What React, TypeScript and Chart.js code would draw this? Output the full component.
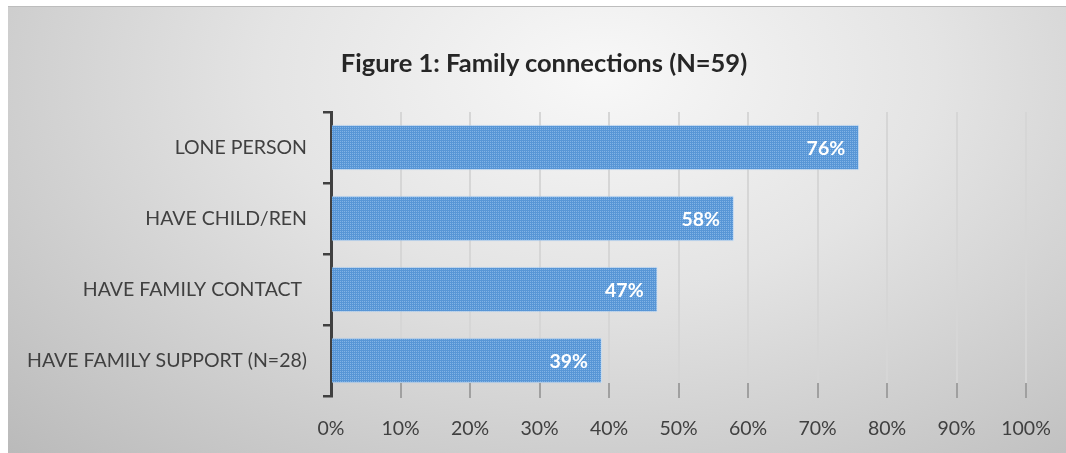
import React, { useEffect, useRef } from "react";
import { Chart, registerables } from "chart.js";

Chart.register(...registerables);

const categories = ["LONE PERSON", "HAVE CHILD/REN", "HAVE FAMILY CONTACT ", "HAVE FAMILY SUPPORT (N=28)"];
const values = [76, 58, 47, 39];
const xTicks = [0, 10, 20, 30, 40, 50, 60, 70, 80, 90, 100];
const titleText = "Figure 1: Family connections (N=59)";

const FONT = "Lato, 'Open Sans', sans-serif";

function makePattern(): CanvasPattern | string {
  const c = document.createElement("canvas");
  c.width = 2;
  c.height = 2;
  const g = c.getContext("2d");
  if (!g) return "#5B9BD5";
  g.fillStyle = "#5896d6";
  g.fillRect(0, 0, 2, 2);
  g.fillStyle = "#82b3e5";
  g.fillRect(0, 0, 1, 1);
  const p = g.createPattern(c, "repeat");
  return p || "#5B9BD5";
}

const dataLabelPlugin = {
  id: "dataLabels",
  afterDatasetsDraw(chart: any) {
    const ctx = chart.ctx;
    const meta = chart.getDatasetMeta(0);
    ctx.save();
    ctx.fillStyle = "#ffffff";
    ctx.font = `bold 19.5px ${FONT}`;
    ctx.textAlign = "right";
    ctx.textBaseline = "middle";
    meta.data.forEach((bar: any, i: number) => {
      ctx.fillText(values[i] + "%", bar.x - 14, bar.y + 1);
    });
    ctx.restore();
  },
};

const xTickMarks = {
  id: "xTickMarks",
  afterDatasetsDraw(chart: any) {
    const ctx = chart.ctx;
    const xs = chart.scales.x;
    const bottom = chart.chartArea.bottom;
    ctx.save();
    ctx.strokeStyle = "#a0a0a0";
    ctx.lineWidth = 2;
    xTicks.forEach((v) => {
      if (v === 0) return;
      const px = Math.round(xs.getPixelForValue(v));
      ctx.beginPath();
      ctx.moveTo(px, bottom - 13);
      ctx.lineTo(px, bottom + 2);
      ctx.stroke();
    });
    ctx.restore();
  },
};

export default function App() {
  const ref = useRef<HTMLCanvasElement>(null);
  useEffect(() => {
    if (!ref.current) return;
    const pattern = makePattern();
    const chart = new Chart(ref.current, {
      type: "bar",
      data: {
        labels: categories,
        datasets: [
          {
            data: values,
            backgroundColor: pattern as any,
            borderColor: "rgba(200,225,250,0.6)",
            borderWidth: 1,
            barPercentage: 0.64,
            categoryPercentage: 1,
          },
        ],
      },
      options: {
        indexAxis: "y",
        responsive: false,
        animation: false,
        layout: { padding: { left: 0, right: 40, top: 105, bottom: 0 } },
        plugins: {
          legend: { display: false },
          tooltip: { enabled: false },
          title: { display: false },
        },
        scales: {
          x: {
            min: 0,
            max: 100,
            afterBuildTicks: (s: any) => {
              s.ticks = xTicks.map((v) => ({ value: v }));
            },
            afterFit: (s: any) => {
              s.height = 57;
            },
            ticks: {
              callback: (v: any) => v + "%",
              color: "#404040",
              font: { family: FONT, size: 19.5 },
              padding: 4,
            },
            grid: {
              color: "#d6d6d6",
              lineWidth: 2,
              drawTicks: true,
              tickLength: 17,
              tickColor: "rgba(0,0,0,0)",
            },
            border: { display: false },
          },
          y: {
            afterFit: (s: any) => {
              s.width = 323;
            },
            ticks: {
              color: "#404040",
              font: { family: FONT, size: 19.5 },
              padding: 16,
            },
            grid: {
              offset: true,
              drawOnChartArea: false,
              color: "#404040",
              lineWidth: 2.5,
              tickLength: 8,
            },
            border: { display: true, color: "#404040", width: 3 },
          },
        },
      },
      plugins: [dataLabelPlugin, xTickMarks],
    });
    return () => chart.destroy();
  }, []);

  return (
    <div
      style={{
        position: "absolute",
        left: 8,
        top: 6,
        width: 1058,
        height: 447,
        background:
          "radial-gradient(ellipse farthest-corner at 56% 15%, #f8f8f8 0%, #e4e4e4 40%, #bababa 100%)",
        borderTop: "1px solid #bdbdbd",
        boxSizing: "border-box",
      }}
    >
      <div
        style={{
          position: "absolute",
          left: 0,
          top: 40,
          width: 1072,
          textAlign: "center",
          fontFamily: FONT,
          fontWeight: "bold",
          fontSize: "25.5px",
          lineHeight: "30px",
          color: "#262626",
          whiteSpace: "nowrap",
        }}
      >
        {titleText}
      </div>
      <canvas ref={ref} width={1058} height={446} style={{ display: "block" }} />
    </div>
  );
}
